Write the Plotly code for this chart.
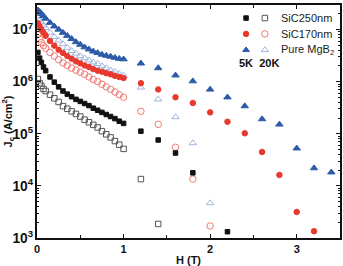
import plotly.graph_objects as go

# ---- data ----
H_dense = [0.01, 0.03, 0.05, 0.075, 0.1, 0.15, 0.2, 0.25, 0.3, 0.35, 0.4, 0.45,
           0.5, 0.55, 0.6, 0.65, 0.7, 0.75, 0.8, 0.85, 0.9, 0.95, 1.0]

pure_5K_lo = [2.34e7, 2.19e7, 2.00e7, 1.82e7, 1.62e7, 1.35e7, 1.15e7, 1.00e7, 8.71e6, 7.59e6,
              6.61e6, 5.75e6, 5.13e6, 4.57e6, 4.17e6, 3.80e6, 3.55e6, 3.31e6, 3.16e6, 3.02e6,
              2.88e6, 2.75e6, 2.69e6]
pure_20K_lo = [1.78e7, 1.55e7, 1.38e7, 1.20e7, 1.07e7, 8.71e6, 7.24e6, 6.17e6, 5.25e6, 4.47e6,
               3.89e6, 3.47e6, 3.09e6, 2.82e6, 2.57e6, 2.34e6, 2.19e6, 2.00e6, 1.82e6, 1.66e6,
               1.55e6, 1.41e6, 1.32e6]
sic170_5K_lo = [1.32e7, 1.15e7, 1.00e7, 8.71e6, 7.59e6, 6.03e6, 4.90e6, 4.07e6, 3.55e6, 3.09e6,
                2.75e6, 2.45e6, 2.24e6, 2.04e6, 1.91e6, 1.74e6, 1.62e6, 1.55e6, 1.45e6, 1.38e6,
                1.29e6, 1.23e6, 1.17e6]
sic170_20K_lo = [7.94e6, 6.61e6, 5.62e6, 4.90e6, 4.37e6, 3.63e6, 3.09e6, 2.63e6, 2.29e6, 2.04e6,
                 1.82e6, 1.66e6, 1.51e6, 1.38e6, 1.23e6, 1.10e6, 1.00e6, 8.91e5, 7.94e5, 7.08e5,
                 6.31e5, 5.62e5, 5.01e5]
sic250_5K_lo = [3.63e6, 2.82e6, 2.34e6, 1.91e6, 1.62e6, 1.23e6, 9.77e5, 7.94e5, 6.61e5, 5.75e5,
                5.13e5, 4.57e5, 4.17e5, 3.80e5, 3.47e5, 3.09e5, 2.82e5, 2.57e5, 2.34e5, 2.14e5,
                1.95e5, 1.74e5, 1.58e5]
sic250_20K_lo = [1.12e6, 9.33e5, 8.32e5, 7.24e5, 6.61e5, 5.62e5, 4.79e5, 4.07e5, 3.39e5, 3.02e5,
                 2.69e5, 2.40e5, 2.14e5, 1.86e5, 1.66e5, 1.48e5, 1.32e5, 1.12e5, 9.77e4, 8.51e4,
                 7.24e4, 6.17e4, 5.13e4]

H_pure_5K_hi = [1.2, 1.4, 1.6, 1.8, 2.0, 2.2, 2.4, 2.6, 2.8, 3.0, 3.2, 3.4]
pure_5K_hi = [2.24e6, 1.82e6, 1.32e6, 1.02e6, 7.08e5, 5.01e5, 3.39e5, 1.91e5, 1.51e5, 5.25e4, 2.19e4, 1.82e4]
H_sic170_5K_hi = [1.2, 1.4, 1.6, 1.8, 2.0, 2.2, 2.4, 2.6, 2.8, 3.0, 3.2]
sic170_5K_hi = [9.33e5, 7.08e5, 5.01e5, 3.89e5, 2.57e5, 1.70e5, 1.02e5, 4.47e4, 1.62e4, 3.16e3, 1.35e3]
H_20K_hi = [1.2, 1.4, 1.6, 1.8, 2.0]
sic170_20K_hi = [2.69e5, 1.51e5, 5.50e4, 1.35e4, 1.70e3]
pure_20K_hi = [7.76e5, 4.57e5, 2.09e5, 6.61e4, 4.68e3]
H_sic250_5K_hi = [1.2, 1.4, 1.6, 1.8, 2.2]
sic250_5K_hi = [1.12e5, 7.59e4, 4.27e4, 1.78e4, 1.32e3]
H_sic250_20K_hi = [1.2, 1.4]
sic250_20K_hi = [1.35e4, 1.86e3]

legend_names = ["SiC250nm", "SiC170nm", "Pure MgB<sub>2</sub>"]

# ---- styles ----
BLUE = "#2d5ba8"
BLUE_O = "#9fb3dc"
RED = "#e8392f"
RED_O = "#f07a72"
BLACK = "#111111"
BLACK_O = "#555555"

series = [
    (H_dense + H_sic250_20K_hi, sic250_20K_lo + sic250_20K_hi, "square-open", BLACK_O, 5.5),
    (H_dense + H_20K_hi, sic170_20K_lo + sic170_20K_hi, "circle-open", RED_O, 6.5),
    (H_dense + H_20K_hi, pure_20K_lo + pure_20K_hi, "triangle-up-open", BLUE_O, 6.5),
    (H_dense + H_sic250_5K_hi, sic250_5K_lo + sic250_5K_hi, "square", BLACK, 4.5),
    (H_dense + H_sic170_5K_hi, sic170_5K_lo + sic170_5K_hi, "circle", RED, 5.5),
    (H_dense + H_pure_5K_hi, pure_5K_lo + pure_5K_hi, "triangle-up", BLUE, 6.5),
]

fig = go.Figure()
for xs, ys, sym, col, sz in series:
    fig.add_trace(go.Scatter(
        x=xs, y=ys, mode="markers",
        marker=dict(symbol=sym, color=col, size=sz,
                    line=dict(width=1, color=col)),
        showlegend=False, hoverinfo="skip"))

# ---- custom legend (two marker columns) on an overlay axis ----
leg_rows_y = [0.944, 0.876, 0.807]
leg_solid = [("square", BLACK, 4.5), ("circle", RED, 5.5), ("triangle-up", BLUE, 6)]
leg_open = [("square-open", BLACK_O, 5.5), ("circle-open", RED_O, 6.5), ("triangle-up-open", BLUE_O, 6.5)]
for i, yv in enumerate(leg_rows_y):
    for xv, (sym, col, sz) in ((0.690, leg_solid[i]), (0.752, leg_open[i])):
        fig.add_trace(go.Scatter(
            x=[xv], y=[yv], mode="markers", xaxis="x2", yaxis="y2",
            marker=dict(symbol=sym, color=col, size=sz, line=dict(width=1, color=col)),
            showlegend=False, hoverinfo="skip"))
    fig.add_annotation(x=0.80, y=yv, xref="paper", yref="paper", text=legend_names[i],
                       showarrow=False, xanchor="left", yanchor="middle",
                       font=dict(family="Liberation Sans, Arial", size=11, color="#222"))
fig.add_annotation(x=0.734, y=0.751, xref="paper", yref="paper", text="<b>5K  20K</b>",
                   showarrow=False, xanchor="center", yanchor="middle",
                   font=dict(family="Liberation Sans, Arial", size=11, color="#111"))

axis_font = dict(family="Liberation Sans, Arial", size=11, color="#111", weight="bold")

fig.update_layout(
    width=343, height=266,
    margin=dict(l=36, r=1, t=5, b=28),
    paper_bgcolor="white", plot_bgcolor="white",
    xaxis=dict(range=[0, 3.5], tickvals=[0, 1, 2, 3], ticks="inside", ticklen=4,
               tickwidth=1, tickcolor="#111",
               showline=True, linecolor="#111", linewidth=1.5, mirror="allticks",
               showgrid=False, zeroline=False, tickfont=axis_font,
               minor=dict(ticks="inside", ticklen=3, dtick=0.5, tickcolor="#111", showgrid=False),
               title=dict(text="<b>H (T)</b>", font=axis_font, standoff=2)),
    yaxis=dict(type="log", range=[3, 7.47], dtick=1, exponentformat="power",
               showexponent="all", ticks="inside", ticklen=4, tickwidth=1, tickcolor="#111",
               showline=True, linecolor="#111", linewidth=1.5, mirror="allticks",
               showgrid=False, zeroline=False, tickfont=axis_font,
               minor=dict(ticks="inside", ticklen=2, dtick="D1", tickcolor="#111", showgrid=False),
               title=dict(text="<b>J<sub>c</sub> (A/cm<sup>2</sup>)</b>", font=axis_font, standoff=4)),
    xaxis2=dict(range=[0, 1], overlaying="x", visible=False),
    yaxis2=dict(range=[0, 1], overlaying="y", visible=False),
)

fig.write_html("out.html")
